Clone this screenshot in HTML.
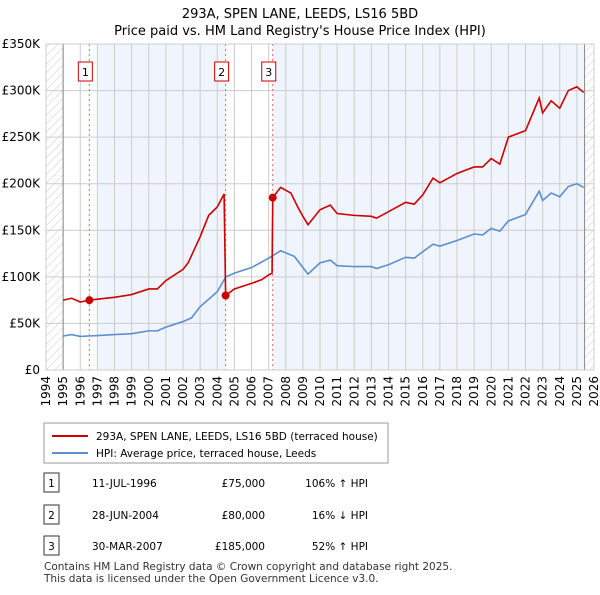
<!DOCTYPE html>
<html><head><meta charset="utf-8"><style>
body{margin:0;background:#fff;font-family:"Liberation Sans","DejaVu Sans",sans-serif;}
svg text{font-family:"DejaVu Sans","Liberation Sans",sans-serif;}
</style></head><body>
<svg id="c" width="600" height="590" xmlns="http://www.w3.org/2000/svg">
<defs><pattern id="hatch" width="6" height="6" patternUnits="userSpaceOnUse" patternTransform="rotate(45)"><line x1="0" y1="0" x2="0" y2="6" stroke="#ccc" stroke-width="1"/></pattern></defs>
<text x="300" y="18" text-anchor="middle" font-size="13">293A, SPEN LANE, LEEDS, LS16 5BD</text>
<text x="300" y="35" text-anchor="middle" font-size="13">Price paid vs. HM Land Registry's House Price Index (HPI)</text>
<g id="plot"></g>
<g>
<rect x="44" y="423" width="344" height="40" fill="#fff" stroke="#999"/>
<line x1="52" y1="436" x2="88" y2="436" stroke="#cc0000" stroke-width="2"/>
<text x="96" y="440" font-size="10.5">293A, SPEN LANE, LEEDS, LS16 5BD (terraced house)</text>
<line x1="52" y1="453" x2="88" y2="453" stroke="#5b8fd0" stroke-width="2"/>
<text x="96" y="457" font-size="10.5">HPI: Average price, terraced house, Leeds</text>
</g>
<g id="tbl" font-size="10.5"></g>
<text x="44" y="570" font-size="10.5" fill="#333">Contains HM Land Registry data © Crown copyright and database right 2025.</text>
<text x="44" y="582" font-size="10.5" fill="#333">This data is licensed under the Open Government Licence v3.0.</text>
</svg>
<script>
const hpiYears=[1995,1995.5,1996,1996.5,1997,1998,1999,2000,2000.5,2001,2002,2002.5,2003,2003.5,2004,2004.5,2005,2006,2007,2007.7,2008.5,2009,2009.3,2010,2010.6,2011,2012,2013,2013.3,2014,2015,2015.5,2016,2016.6,2017,2018,2019,2019.5,2020,2020.5,2021,2022,2022.8,2023,2023.5,2024,2024.5,2025,2025.4];
const hpiValues=[36.5,38,36,36.5,37,38,39,42,42,46,52,56,68,76,84,100,104,110,120,128,122,110,103,115,118,112,111,111,109,113,121,120,127,135,133,139,146,145,152,149,160,167,192,182,190,186,197,200,196];
const ppYears=[1995,1995.5,1996,1996.53,1997,1998,1999,2000,2000.5,2001,2002,2002.3,2003,2003.5,2004,2004.4,2004.49,2005,2006,2006.6,2007,2007.2,2007.24,2007.7,2008.3,2008.7,2009,2009.3,2010,2010.6,2011,2012,2013,2013.3,2014,2015,2015.5,2016,2016.6,2017,2018,2019,2019.5,2020,2020.5,2021,2022,2022.8,2023,2023.5,2024,2024.5,2025,2025.4];
const ppValues=[75,77,73,75,76,78,81,87,87,96,108,115,143,166,175,189,80,87,93,97,102,104,185,196,190,175,165,156,172,177,168,166,165,163,170,180,178,188,206,201,211,218,218,227,221,250,257,292,276,289,281,300,304,298];
const saleYears=[1996.53,2004.49,2007.24];
const saleValues=[75,80,185];
const saleLabels=["1","2","3"];
const saleDates=["11-JUL-1996","28-JUN-2004","30-MAR-2007"];
const salePrices=["£75,000","£80,000","£185,000"];
const saleHpi=["106% ↑ HPI","16% ↓ HPI","52% ↑ HPI"];
const yTicks=[0,50,100,150,200,250,300,350];
const yTickLabels=["£0","£50K","£100K","£150K","£200K","£250K","£300K","£350K"];
const xTicks=[1994,1995,1996,1997,1998,1999,2000,2001,2002,2003,2004,2005,2006,2007,2008,2009,2010,2011,2012,2013,2014,2015,2016,2017,2018,2019,2020,2021,2022,2023,2024,2025,2026];

const NS="http://www.w3.org/2000/svg";
const L=46,R=594,T=44,B=370;
const xs=y=>L+(y-1994)/(2026-1994)*(R-L);
const ys=v=>B-v/350*(B-T);
const plot=document.getElementById('plot');
function mk(tag,attrs,parent){const e=document.createElementNS(NS,tag);for(const k in attrs)e.setAttribute(k,attrs[k]);(parent||plot).appendChild(e);return e;}
// backgrounds
let e;
e=mk('rect',{x:L,y:T,width:R-L,height:B-T,fill:'#fff'});


e=mk('rect',{x:xs(1997),y:T,width:xs(saleYears[1])-xs(1997),height:B-T,fill:'#f0f4fc'});


e=mk('rect',{x:xs(saleYears[2]),y:T,width:xs(2025.45)-xs(saleYears[2]),height:B-T,fill:'#f0f4fc'});


e=mk('rect',{x:L,y:T,width:xs(1995)-L,height:B-T,fill:'url(#hatch)'});


e=mk('rect',{x:xs(2025.45),y:T,width:R-xs(2025.45),height:B-T,fill:'url(#hatch)'});


// grid
xTicks.forEach((t,i)=>{
 e=mk('line',{x1:xs(t),x2:xs(t),y1:T,y2:B,stroke:'#ccc','stroke-width':1});
 
 
 e=mk('text',{x:0,y:0,'font-size':12,'text-anchor':'end',transform:`translate(${xs(t)+4},${B+6}) rotate(-90)`});
 e.textContent=t;
 
 
});
yTicks.forEach((t,i)=>{
 e=mk('line',{x1:L,x2:R,y1:ys(t),y2:ys(t),stroke:'#ccc','stroke-width':1});
 
 
 e=mk('text',{x:40,y:ys(t)+4,'font-size':12,'text-anchor':'end'});
 e.textContent=yTickLabels[i];
 
 
});
e=mk('line',{x1:xs(1995),x2:xs(1995),y1:T,y2:B,stroke:'#888'});


e=mk('line',{x1:xs(2025.45),x2:xs(2025.45),y1:T,y2:B,stroke:'#888'});


// sale dashed lines
saleYears.forEach((s,i)=>{
 e=mk('line',{x1:xs(s),x2:xs(s),y1:T,y2:B,stroke:'#f06060','stroke-dasharray':'2,3'});
 
 
 e=mk('rect',{x:xs(s)-11,y:62,width:14,height:19,fill:'#fff',stroke:'#cc0000'});
 
 
 e=mk('text',{x:xs(s)-4,y:76,'font-size':11,'text-anchor':'middle'});
 e.textContent=saleLabels[i];
 
 
});
// lines
e=mk('polyline',{points:hpiYears.map((y,i)=>xs(y)+','+ys(hpiValues[i])).join(' '),fill:'none',stroke:'#5b8fd0','stroke-width':1.6});


e=mk('polyline',{points:ppYears.map((y,i)=>xs(y)+','+ys(ppValues[i])).join(' '),fill:'none',stroke:'#cc0000','stroke-width':1.6});


saleYears.forEach((s,i)=>{
 e=mk('circle',{cx:xs(s),cy:ys(saleValues[i]),r:4,fill:'#cc0000'});
 
 
});
e=mk('rect',{x:L,y:T,width:R-L,height:B-T,fill:'none',stroke:'#ccc'});


// table
const tbl=document.getElementById('tbl');
const rowY=[483,515,546];
saleLabels.forEach((l,i)=>{
 const y=rowY[i];
 e=mk('rect',{x:44,y:y-10,width:15,height:19,fill:'#fff',stroke:'#333'},tbl);
 
 
 e=mk('text',{x:51.5,y:y+4,'text-anchor':'middle'},tbl);e.textContent=l;
 
 
 e=mk('text',{x:92,y:y+4},tbl);e.textContent=saleDates[i];
 
 
 e=mk('text',{x:265,y:y+4,'text-anchor':'end'},tbl);e.textContent=salePrices[i];
 
 
 e=mk('text',{x:368,y:y+4,'text-anchor':'end'},tbl);e.textContent=saleHpi[i];
 
 
});
</script>
</body></html>
